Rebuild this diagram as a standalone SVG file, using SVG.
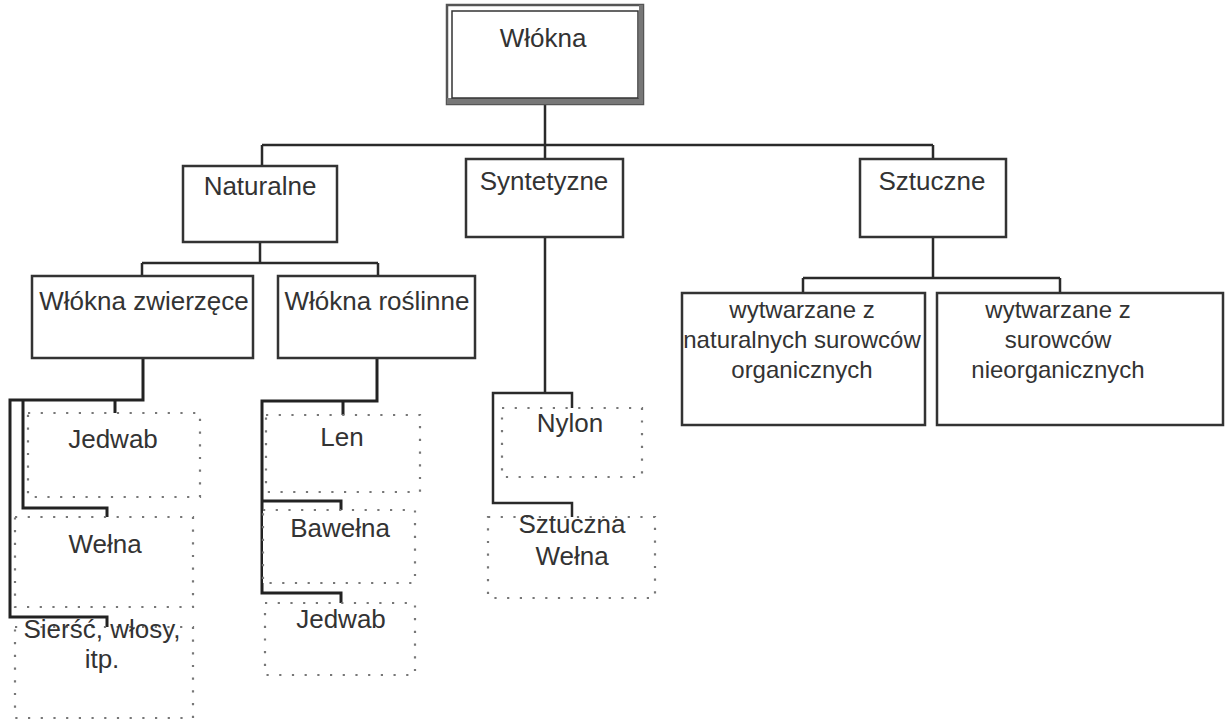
<svg xmlns="http://www.w3.org/2000/svg" width="1226" height="720" viewBox="0 0 1226 720">
<style>
.box{fill:#fff;stroke:#333;stroke-width:2.5}
.dot{fill:#fff;stroke:#777;stroke-width:2.2;stroke-dasharray:2.2 10.5}
.t{font-family:"Liberation Sans",Arial,sans-serif;font-size:26px;fill:#333;text-anchor:middle}
.s{font-size:24px}
.c{fill:none;stroke:#2a2a2a;stroke-width:2.5}
.ct{fill:none;stroke:#222;stroke-width:3}
</style>
<rect width="1226" height="720" fill="#fff"/>
<g id="connectors">
<path class="c" d="M545,104 V145 M262,145 H933 M262,145 V166 M545,145 V159 M933,145 V159"/>
<path class="c" d="M260,242 V263 M142,263 H378 M142,263 V276 M378,263 V276"/>
<path class="c" d="M933,237 V278 M803,278 H1060 M803,278 V293 M1060,278 V293"/>
<path class="ct" d="M143,358 V400 H10 V617 H107 V627 M23,400 V508 H107 V517 M115,400 V413"/>
<path class="ct" d="M377,358 V401 H262 V593 H341 V603 M262,501 H341 V510 M343,401 V415"/>
<path class="c" d="M545,237 V393 H493 V503 H572 V517 M493,393 H572 V408"/>
</g>
<g id="n-wlokna">
<rect x="447" y="5" width="196" height="99" fill="#fff" stroke="#555" stroke-width="2.5"/>
<path d="M447,98 H643 V104 H447 Z M639,5 H643 V104 H639 Z" fill="#777"/>
<rect x="452" y="11" width="186" height="87" fill="none" stroke="#333" stroke-width="1.5"/>
<text class="t" x="543" y="47">Włókna</text>
</g>
<g id="n-naturalne">
<rect class="box" x="183" y="166" width="154" height="76"/>
<text class="t" x="260" y="195">Naturalne</text>
</g>
<g id="n-syntetyzne">
<rect class="box" x="466" y="159" width="157" height="78"/>
<text class="t" x="544" y="190">Syntetyzne</text>
</g>
<g id="n-sztuczne">
<rect class="box" x="860" y="159" width="146" height="78"/>
<text class="t" x="932" y="190">Sztuczne</text>
</g>
<g id="n-org">
<rect class="box" x="682" y="293" width="243" height="132"/>
<text class="t s" x="802" y="318">wytwarzane z</text>
<text class="t s" x="802" y="348">naturalnych surowców</text>
<text class="t s" x="802" y="378">organicznych</text>
</g>
<g id="n-nieorg">
<rect class="box" x="937" y="293" width="286" height="132"/>
<text class="t s" x="1058" y="318">wytwarzane z</text>
<text class="t s" x="1058" y="348">surowców</text>
<text class="t s" x="1058" y="378">nieorganicznych</text>
</g>
<g id="n-zwierzece">
<rect class="box" x="32" y="276" width="221" height="82"/>
<text class="t" x="144" y="310">Włókna zwierzęce</text>
</g>
<g id="n-roslinne">
<rect class="box" x="278" y="276" width="197" height="82"/>
<text class="t" x="377" y="310">Włókna roślinne</text>
</g>
<g id="n-jedwab1">
<rect class="dot" x="28" y="413" width="172" height="84"/>
<text class="t" x="113" y="448">Jedwab</text>
</g>
<g id="n-welna">
<rect class="dot" x="15" y="517" width="178" height="90"/>
<text class="t" x="105" y="553">Wełna</text>
</g>
<g id="n-siersc">
<rect class="dot" x="15" y="627" width="178" height="91"/>
<text class="t" x="102" y="638">Sierść, włosy,</text>
<text class="t" x="102" y="668">itp.</text>
</g>
<g id="n-len">
<rect class="dot" x="266" y="415" width="154" height="77"/>
<text class="t" x="342" y="446">Len</text>
</g>
<g id="n-bawelna">
<rect class="dot" x="263" y="510" width="152" height="73"/>
<text class="t" x="340" y="537">Bawełna</text>
</g>
<g id="n-jedwab2">
<rect class="dot" x="265" y="603" width="150" height="72"/>
<text class="t" x="341" y="628">Jedwab</text>
</g>
<g id="n-nylon">
<rect class="dot" x="502" y="408" width="140" height="69"/>
<text class="t" x="570" y="432">Nylon</text>
</g>
<g id="n-sztwelna">
<rect class="dot" x="488" y="517" width="167" height="81"/>
<text class="t" x="572" y="533">Sztuczna</text>
<text class="t" x="572" y="565">Wełna</text>
</g>
</svg>
